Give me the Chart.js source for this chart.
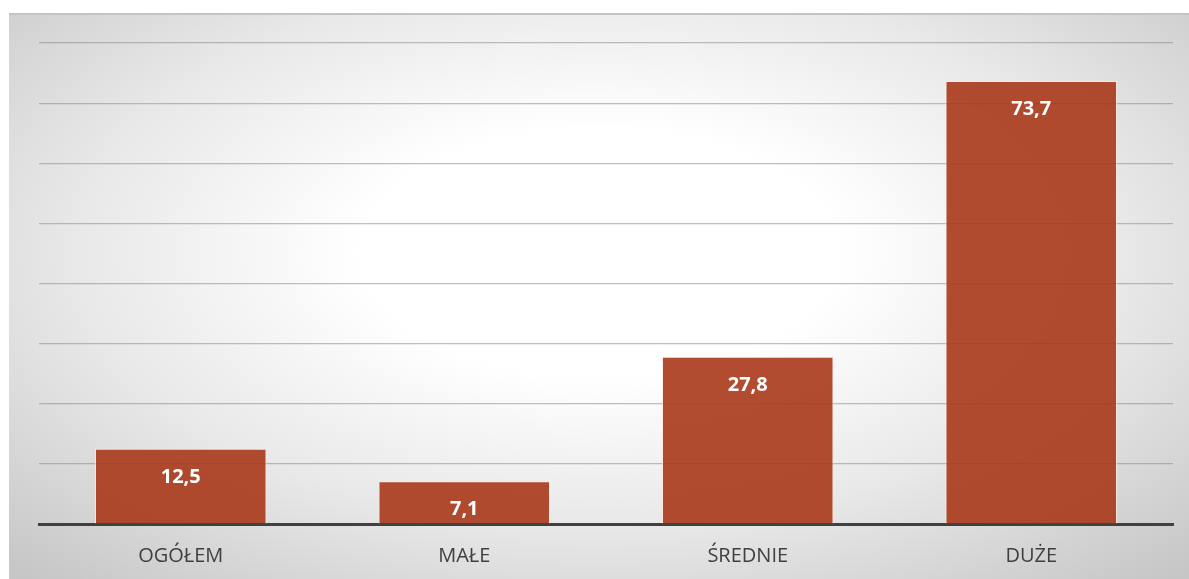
<!DOCTYPE html>
<html>
<head>
<meta charset="utf-8">
<script src="https://cdn.jsdelivr.net/npm/chart.js@4"></script>
<style>
  html, body { margin: 0; padding: 0; background: #fff; }
  #frame {
    position: absolute; left: 9px; top: 13px; width: 1180px; height: 566px;
    border-top: 2px solid #c4c4c4;
    background: radial-gradient(ellipse 72% 78% at 50% 42%, #ffffff 0%, #ffffff 28%, #e8e8e8 62%, #c6c6c6 100%);
  }
  canvas { display: block; }
</style>
</head>
<body>
<div id="frame"><canvas id="chart" width="1180" height="564"></canvas></div>
<script>
// ---- Data ----
const categories = ['OGÓŁEM', 'MAŁE', 'ŚREDNIE', 'DUŻE'];
const values = [12.5, 7.1, 27.8, 73.7];
const Y_MAX = 80;
const Y_STEP = 10;

const FONT = '"Open Sans", "Liberation Sans", sans-serif';

// value labels drawn inside top of each bar, comma decimal
const barLabels = {
  id: 'barLabels',
  afterDatasetsDraw(chart) {
    const ctx = chart.ctx;
    const meta = chart.getDatasetMeta(0);
    ctx.save();
    ctx.font = 'bold 20px ' + FONT;
    ctx.fillStyle = '#ffffff';
    ctx.textAlign = 'center';
    ctx.textBaseline = 'middle';
    meta.data.forEach((bar, i) => {
      ctx.fillText(values[i].toFixed(1).replace('.', ','), bar.x, bar.y + 28);
    });
    ctx.restore();
  }
};

new Chart(document.getElementById('chart').getContext('2d'), {
  type: 'bar',
  data: {
    labels: categories,
    datasets: [{
      data: values,
      backgroundColor: 'rgba(168, 56, 26, 0.9)',
      borderColor: 'rgba(255, 235, 225, 0.8)',
      borderWidth: 1,
      barPercentage: 0.605,
      categoryPercentage: 1.0
    }]
  },
  options: {
    responsive: false,
    animation: false,
    layout: { padding: { left: 30, right: 16, top: 28, bottom: 0 } },
    plugins: { legend: { display: false }, tooltip: { enabled: false } },
    scales: {
      x: {
        grid: { display: false },
        border: { display: true, color: '#404040', width: 3 },
        ticks: { color: '#404040', font: { family: FONT, size: 20 }, padding: 12 },
        afterFit: (s) => { s.height = 55; }
      },
      y: {
        min: 0, max: Y_MAX,
        ticks: { display: false, stepSize: Y_STEP },
        grid: { color: 'rgba(130,130,130,0.5)', lineWidth: 1.2, drawTicks: false },
        border: { display: false },
        afterFit: (s) => { s.width = 0; }
      }
    }
  },
  plugins: [barLabels]
});
</script>
</body>
</html>
